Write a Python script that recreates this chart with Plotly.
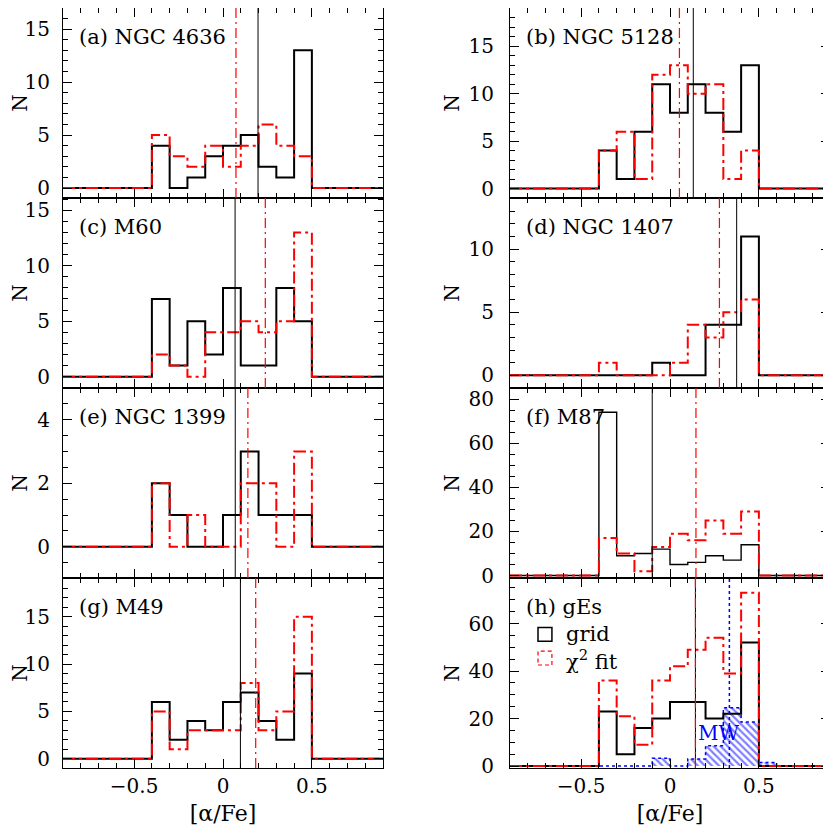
import plotly.graph_objects as go
from plotly.subplots import make_subplots

# [alpha/Fe] bins: left edges, width 0.1
bin_lo = [-0.4, -0.3, -0.2, -0.1, 0.0, 0.1, 0.2, 0.3, 0.4]
bin_w = 0.1
x_lo, x_hi = -0.9, 0.9

# counts per bin: grid method (black) and chi^2 fit (red)
ngc4636_grid = [4, 0, 1, 3, 4, 5, 2, 1, 13]
ngc4636_fit = [5, 3, 2, 4, 2, 4, 6, 4, 3]
ngc5128_grid = [4, 1, 6, 11, 8, 11, 8, 6, 13]
ngc5128_fit = [4, 6, 1, 12, 13, 10, 11, 1, 4]
m60_grid = [7, 1, 5, 2, 8, 1, 1, 8, 5]
m60_fit = [2, 1, 0, 4, 4, 5, 4, 5, 13]
ngc1407_grid = [0, 0, 0, 1, 0, 0, 4, 4, 11]
ngc1407_fit = [1, 0, 0, 0, 1, 4, 3, 5, 6]
ngc1399_grid = [2, 1, 0, 0, 1, 3, 1, 1, 1]
ngc1399_fit = [2, 0, 1, 0, 0, 2, 2, 0, 3]
m87_grid = [74, 9, 10, 12, 5, 6, 9, 7, 14]
m87_fit = [17, 10, 2, 13, 19, 16, 25, 19, 29]
m49_grid = [6, 2, 4, 3, 6, 7, 4, 2, 9]
m49_fit = [5, 1, 3, 3, 3, 8, 3, 5, 15]
ges_grid = [23, 5, 16, 20, 27, 27, 20, 22, 52]
ges_fit = [36, 21, 9, 36, 42, 49, 54, 39, 73]

# mean [alpha/Fe] of each galaxy
mean_grid = [0.197, 0.131, 0.068, 0.375, 0.069, -0.10, 0.098, 0.143]
mean_fit = [0.073, 0.053, 0.238, 0.278, 0.14, 0.146, 0.184, 0.143]

# Milky Way GCs, hatched in panel (h)
mw_lo = [-0.4, -0.3, -0.2, -0.1, 0.0, 0.1, 0.2, 0.3, 0.4, 0.5]
mw_counts = [0, 0, 0, 3.3, 0, 3, 8.5, 24.5, 18.5, 1.5]
mw_mean = 0.334

names = ["(a) NGC 4636", "(b) NGC 5128", "(c) M60", "(d) NGC 1407",
         "(e) NGC 1399", "(f) M87", "(g) M49", "(h) gEs"]
grids = [ngc4636_grid, ngc5128_grid, m60_grid, ngc1407_grid,
         ngc1399_grid, m87_grid, m49_grid, ges_grid]
fits = [ngc4636_fit, ngc5128_fit, m60_fit, ngc1407_fit,
        ngc1399_fit, m87_fit, m49_fit, ges_fit]

yranges = [[-0.94, 17.0], [-1, 19.05], [-1.02, 16.1], [-1, 14.04],
           [-0.98, 5.0], [-1.1, 85], [-0.98, 19.1], [-0.83, 79.2]]
ydt = [5, 5, 5, 5, 2, 20, 5, 20]
ymin = [1, 1, 1, 1, 0.5, 5, 1, 5]

FONT = "DejaVu Serif"
RED = "#ff0000"
BLUE = "#0000ff"
DASHDOT = "12px,4px,3px,4px"


def steps(lo, counts):
    xs = [x_lo] + list(lo) + [lo[-1] + bin_w, x_hi]
    ys = [0] + list(counts) + [0, 0]
    return xs, ys


fig = make_subplots(rows=4, cols=2)

# MW hatched histogram first so lines sit on top
mw_x = [v + bin_w / 2 for v in mw_lo]
fig.add_trace(go.Bar(x=mw_x, y=mw_counts, width=bin_w,
                     marker=dict(color="rgba(0,0,0,0)", line_width=0,
                                 pattern=dict(shape="\\", fgcolor=BLUE, size=5,
                                              solidity=0.45, fillmode="overlay"))),
              row=4, col=2)
mx, my = steps(mw_lo, mw_counts)
fig.add_trace(go.Scatter(x=mx, y=my, mode="lines", line_shape="hv",
                         line=dict(color=BLUE, width=1.5, dash="dot")),
              row=4, col=2)

for i in range(8):
    r, c = i // 2 + 1, i % 2 + 1
    gx, gy = steps(bin_lo, grids[i])
    fig.add_trace(go.Scatter(x=gx, y=gy, mode="lines", line_shape="hv",
                             line=dict(color="black", width=1.4 if i == 5 else 2)),
                  row=r, col=c)
    fx, fy = steps(bin_lo, fits[i])
    fig.add_trace(go.Scatter(x=fx, y=fy, mode="lines", line_shape="hv",
                             line=dict(color=RED, width=2, dash=DASHDOT)),
                  row=r, col=c)
    k = "" if i == 0 else str(i + 1)
    fig.add_shape(type="line", x0=mean_grid[i], x1=mean_grid[i], y0=0, y1=1,
                  xref="x" + k, yref="y" + k + " domain",
                  line=dict(color="black", width=1))
    fig.add_shape(type="line", x0=mean_fit[i], x1=mean_fit[i], y0=0, y1=1,
                  xref="x" + k, yref="y" + k + " domain",
                  line=dict(color=RED, width=1.2, dash="10px,4px,2px,4px"))
    fig.add_annotation(text=names[i], x=0.045, y=0.849, xref="x" + k + " domain",
                       yref="y" + k + " domain", xanchor="left", yanchor="middle",
                       showarrow=False, font=dict(family=FONT, size=21, color="black"))

fig.add_shape(type="line", x0=mw_mean, x1=mw_mean, y0=0, y1=1, xref="x8",
              yref="y8 domain", line=dict(color=BLUE, width=1.5, dash="dot"))
fig.add_annotation(text="MW", x=0.27, y=14, xref="x8", yref="y8", showarrow=False,
                   font=dict(family=FONT, size=20, color=BLUE))

# legend of panel (h)
fig.add_shape(type="rect", x0=0.0875, x1=0.131, y0=0.667, y1=0.740,
              xref="x8 domain", yref="y8 domain", line=dict(color="black", width=1.5))
fig.add_shape(type="rect", x0=0.0875, x1=0.131, y0=0.542, y1=0.615,
              xref="x8 domain", yref="y8 domain",
              line=dict(color=RED, width=1.2, dash="4px,3px"))
fig.add_annotation(text="grid", x=0.17, y=0.703, xref="x8 domain", yref="y8 domain",
                   xanchor="left", yanchor="middle", showarrow=False,
                   font=dict(family=FONT, size=21, color="black"))
fig.add_annotation(text="χ<sup>2</sup> fit", x=0.17, y=0.57, xref="x8 domain",
                   yref="y8 domain", xanchor="left", yanchor="middle", showarrow=False,
                   font=dict(family=FONT, size=21, color="black"))

xdom = [[0, 0.4172], [0.5828, 1]]
for i in range(8):
    r, c = i // 2, i % 2
    k = "" if i == 0 else str(i + 1)
    bottom = r == 3
    fig.layout["xaxis" + k].update(
        domain=xdom[c], range=[x_lo, x_hi], showgrid=False, zeroline=False,
        automargin=False,
        showline=True, linecolor="black", linewidth=1.2, mirror="ticks",
        ticks="inside", ticklen=9, tickwidth=1.2, tickcolor="black",
        tick0=0, dtick=0.5, showticklabels=bottom,
        tickfont=dict(family=FONT, size=20, color="black"),
        minor=dict(dtick=0.1, ticks="inside", ticklen=5, tickwidth=1.2, tickcolor="black"),
        title=dict(text="[α/Fe]" if bottom else "", standoff=8,
                   font=dict(family=FONT, size=22, color="black")))
    fig.layout["yaxis" + k].update(
        domain=[0.75 - 0.25 * r, 1 - 0.25 * r], range=yranges[i], showgrid=False,
        zeroline=False, showline=True, linecolor="black", linewidth=1.2, mirror="ticks",
        automargin=False,
        ticks="inside", ticklen=9, tickwidth=1.2, tickcolor="black",
        tick0=0, dtick=ydt[i], ticklabelstandoff=8 if c == 0 else 11,
        tickfont=dict(family=FONT, size=20, color="black"),
        minor=dict(dtick=ymin[i], ticks="inside", ticklen=5, tickwidth=1.2, tickcolor="black"),
        title=dict(text="N", standoff=14 if c == 0 else 3,
                   font=dict(family=FONT, size=20, color="black")))

# page body adds an 8px offset, margins compensate for it
fig.update_layout(width=831, height=826, margin=dict(l=55, r=9, t=0, b=66),
                  paper_bgcolor="white", plot_bgcolor="white", showlegend=False,
                  barmode="overlay", font=dict(family=FONT), template="none")

fig.write_html("out.html")
